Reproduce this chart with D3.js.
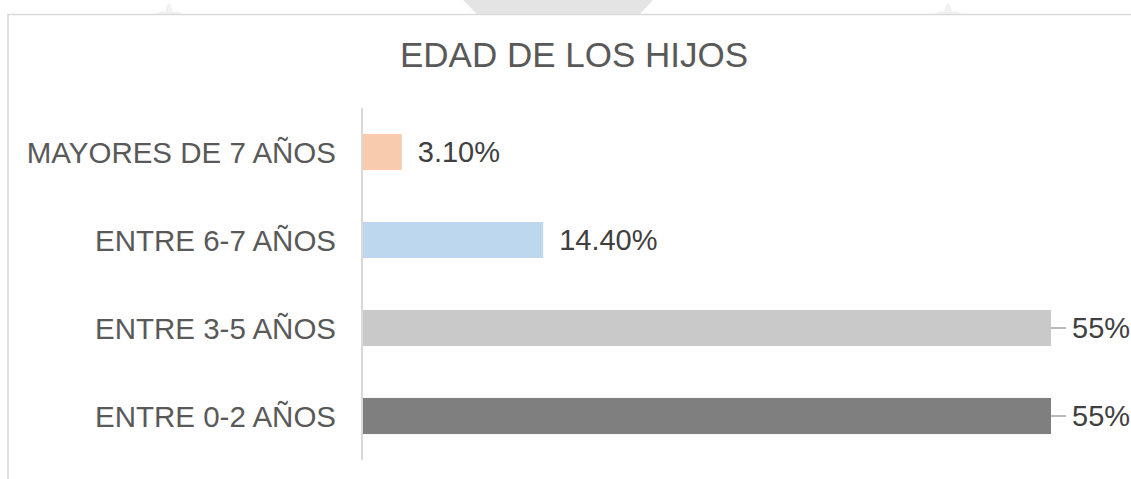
<!DOCTYPE html>
<html>
<head>
<meta charset="utf-8">
<script src="https://cdn.jsdelivr.net/npm/d3@7"></script>
<style>
  html, body { margin: 0; padding: 0; background: #ffffff; }
  svg { display: block; }
</style>
</head>
<body>
<script>
const categories = ["MAYORES DE 7 AÑOS", "ENTRE 6-7 AÑOS", "ENTRE 3-5 AÑOS", "ENTRE 0-2 AÑOS"];
const values = [3.1, 14.4, 55, 55];
const valueLabels = ["3.10%", "14.40%", "55%", "55%"];
const barColors = ["#F8CBAD", "#BDD7EE", "#C9C9C9", "#7F7F7F"];
const leaderLine = [false, false, true, true];
const title = "EDAD DE LOS HIJOS";

const W = 1131, H = 479;
const svg = d3.select("body").append("svg").attr("width", W).attr("height", H);
const font = "'Liberation Sans', Arial, sans-serif";

// faint watermark pieces behind the chart frame
svg.append("polygon")
  .attr("points", "463,0 653,0 640,14 477,14")
  .attr("fill", "#E4E4E4");
function star(cx) {
  const pts = [[cx-14,14],[cx-8,11],[cx-4,12],[cx-2,5],[cx,3],[cx+2,5],[cx+4,12],[cx+8,11],[cx+14,14]];
  svg.append("polygon").attr("points", pts.map(p => p.join(",")).join(" ")).attr("fill", "#F2F2F2");
}
star(169); star(948);

// chart frame
svg.append("line").attr("x1", 7).attr("x2", W).attr("y1", 14.5).attr("y2", 14.5)
  .attr("stroke", "#D9D9D9").attr("stroke-width", 1.5);
svg.append("line").attr("x1", 8).attr("x2", 8).attr("y1", 14).attr("y2", H)
  .attr("stroke", "#D9D9D9").attr("stroke-width", 1.5);

// title
svg.append("text")
  .attr("x", 574).attr("y", 67)
  .attr("text-anchor", "middle")
  .attr("font-family", font).attr("font-size", 35)
  .attr("fill", "#595959")
  .text(title);

const x = d3.scaleLinear().domain([0, 55]).range([363, 1051]);
const y = d3.scaleBand().domain(categories).range([108, 460])
  .paddingInner(0.59).paddingOuter(0.295);

// bars
svg.append("g").selectAll("rect").data(categories).join("rect")
  .attr("x", x(0))
  .attr("y", d => y(d))
  .attr("width", (d, i) => x(values[i]) - x(0))
  .attr("height", y.bandwidth())
  .attr("fill", (d, i) => barColors[i]);

// vertical axis
const yAxis = svg.append("g").attr("transform", `translate(${x(0) - 1},0)`)
  .call(d3.axisLeft(y).tickSize(0).tickPadding(26));
yAxis.select(".domain").attr("stroke", "#D9D9D9").attr("stroke-width", 2)
  .attr("d", "M0,108V460");
yAxis.selectAll("text")
  .attr("font-family", font).attr("font-size", 29.5)
  .attr("fill", "#595959").attr("dy", "0.36em");

// data labels
const lab = svg.append("g");
categories.forEach((c, i) => {
  const cy = y(c) + y.bandwidth() / 2;
  const xe = x(values[i]);
  if (leaderLine[i]) {
    lab.append("line").attr("x1", xe).attr("x2", xe + 15).attr("y1", cy).attr("y2", cy)
      .attr("stroke", "#A6A6A6").attr("stroke-width", 1.5);
  }
  lab.append("text")
    .attr("x", leaderLine[i] ? xe + 21 : xe + 16)
    .attr("y", cy).attr("dy", "0.36em")
    .attr("font-family", font).attr("font-size", 29)
    .attr("fill", "#404040")
    .text(valueLabels[i]);
});
</script>
</body>
</html>
